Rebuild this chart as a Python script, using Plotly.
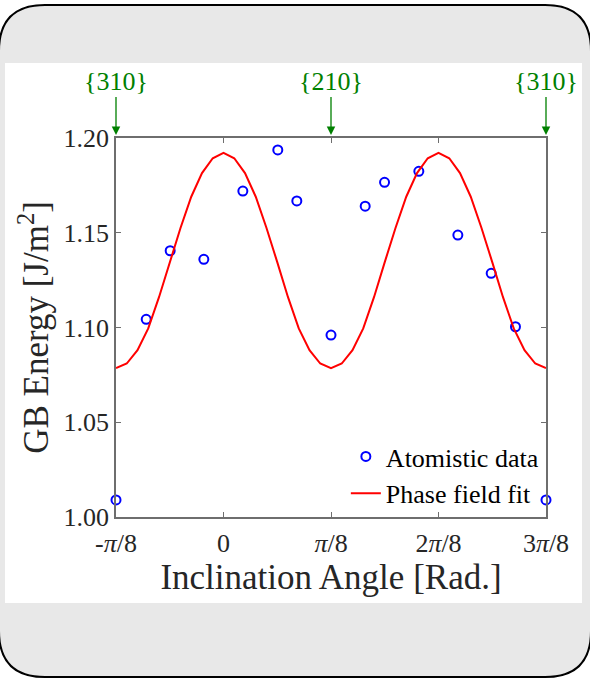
import numpy as np
import plotly.graph_objects as go

# ---- data ----
# atomistic data: inclination angle in units of pi/8, GB energy in J/m^2
atom_angle_pi8 = [-1.0, -0.719, -0.496, -0.183, 0.180, 0.505, 0.682, 1.0,
                  1.318, 1.498, 1.817, 2.180, 2.490, 2.716, 3.0]
atom_energy = [1.0090, 1.1043, 1.1405, 1.1360, 1.1720, 1.1937, 1.1668, 1.0960,
               1.1640, 1.1766, 1.1824, 1.1488, 1.1286, 1.1004, 1.0090]

fit_angle_pi8 = [-1.0 + 0.1 * i for i in range(41)]
fit_energy = [1.0786, 1.0810, 1.0880, 1.0995, 1.1160, 1.1345, 1.1525, 1.1690,
              1.1815, 1.1893, 1.1921, 1.1893, 1.1815, 1.1690, 1.1525, 1.1345,
              1.1160, 1.0995, 1.0880, 1.0810, 1.0786, 1.0810, 1.0880, 1.0995,
              1.1160, 1.1345, 1.1525, 1.1690, 1.1815, 1.1893, 1.1921, 1.1893,
              1.1815, 1.1690, 1.1525, 1.1345, 1.1160, 1.0995, 1.0880, 1.0810,
              1.0786]

tick_pi8 = [-1, 0, 1, 2, 3]
tick_labels = ["-<i>π</i>/8", "0", "<i>π</i>/8", "2<i>π</i>/8", "3<i>π</i>/8"]
y_ticks = [1.00, 1.05, 1.10, 1.15, 1.20]
y_tick_labels = ["1.00", "1.05", "1.10", "1.15", "1.20"]

plane_pi8 = [-1, 1, 3]
plane_labels = ["{310}", "{210}", "{310}"]

PI8 = np.pi / 8
FONT = "Liberation Serif"
TXT = "#262626"

W, H = 590, 678
L, R, T, B = 116, 44, 138, 161
PW, PH = W - L - R, H - T - B


def px2paper_x(px):
    return (px - L) / PW


def px2paper_y(py):
    return (H - B - py) / PH


fig = go.Figure()
fig.add_trace(go.Scatter(
    x=np.array(atom_angle_pi8) * PI8, y=atom_energy, mode="markers",
    name="Atomistic data", cliponaxis=False,
    marker=dict(symbol="circle-open", size=9, color="#0000ff",
                line=dict(width=2, color="#0000ff")),
))
fig.add_trace(go.Scatter(
    x=np.array(fit_angle_pi8) * PI8, y=fit_energy, mode="lines",
    name="Phase field fit", line=dict(color="#ff0000", width=2),
))

# background: gray rounded panel, white inner card
x0, x1 = px2paper_x(-1), px2paper_x(591)
y0, y1 = px2paper_y(677), px2paper_y(5)
rx, ry = 46 / PW, 46 / PH
path = (f"M {x0+rx},{y1} L {x1-rx},{y1} Q {x1},{y1} {x1},{y1-ry} "
        f"L {x1},{y0+ry} Q {x1},{y0} {x1-rx},{y0} L {x0+rx},{y0} "
        f"Q {x0},{y0} {x0},{y0+ry} L {x0},{y1-ry} Q {x0},{y1} {x0+rx},{y1} Z")
fig.add_shape(type="path", path=path, xref="paper", yref="paper",
              fillcolor="#e8e8e8", line=dict(color="black", width=2), layer="below")
fig.add_shape(type="rect", xref="paper", yref="paper",
              x0=px2paper_x(5), x1=px2paper_x(582),
              y0=px2paper_y(603), y1=px2paper_y(63),
              fillcolor="white", line=dict(width=0), layer="below")

for xv, lab in zip(plane_pi8, plane_labels):
    fig.add_annotation(
        x=xv * PI8, y=1.2, xref="x", yref="y", text=lab,
        showarrow=True, ax=0, ay=-57, standoff=3,
        arrowcolor="#008000", arrowhead=2, arrowsize=1.3, arrowwidth=1.3,
        font=dict(family=FONT, size=26, color="#008000"),
    )

fig.update_layout(
    width=W, height=H,
    margin=dict(l=L, r=R, t=T, b=B),
    paper_bgcolor="white", plot_bgcolor="white",
    font=dict(family=FONT, color=TXT),
    showlegend=True,
    legend=dict(x=0.995, y=0.0, xanchor="right", yanchor="bottom",
                bgcolor="rgba(0,0,0,0)", font=dict(family=FONT, size=26, color="black"),
                tracegroupgap=0, itemwidth=30),
    xaxis=dict(
        range=[-PI8, 3 * PI8], tickmode="array",
        tickvals=[v * PI8 for v in tick_pi8], ticktext=tick_labels,
        ticks="inside", ticklen=5, tickcolor="#6e6e6e", tickwidth=1,
        showline=True, linecolor="#6e6e6e", linewidth=1.5, mirror="ticks",
        showgrid=False, zeroline=False, ticklabelstandoff=2,
        tickfont=dict(family=FONT, size=26, color=TXT),
        title=dict(text="Inclination Angle [Rad.]",
                   font=dict(family=FONT, size=35, color=TXT), standoff=6),
    ),
    yaxis=dict(
        range=[1.0, 1.2], tickmode="array", tickvals=y_ticks, ticktext=y_tick_labels,
        ticks="inside", ticklen=5, tickcolor="#6e6e6e", tickwidth=1,
        showline=True, linecolor="#6e6e6e", linewidth=1.5, mirror="ticks",
        showgrid=False, zeroline=False,
        tickfont=dict(family=FONT, size=26, color=TXT),
        title=dict(text="GB Energy [J/m<sup>2</sup>]",
                   font=dict(family=FONT, size=35, color=TXT), standoff=4),
    ),
)

fig.write_html("out.html")
